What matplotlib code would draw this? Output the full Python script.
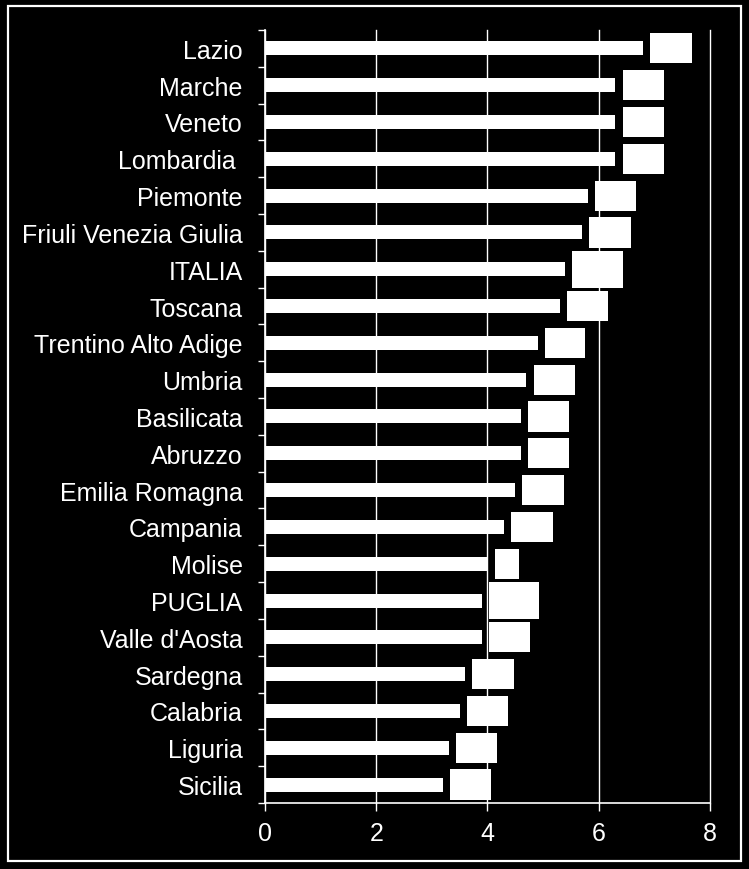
import matplotlib
matplotlib.use("Agg")
import matplotlib.pyplot as plt
from matplotlib.patches import Rectangle
import numpy as np

plt.rcParams['font.family'] = ['Liberation Sans', 'DejaVu Sans']

# regions, top to bottom
regions = ["Lazio", "Marche", "Veneto", "Lombardia ", "Piemonte",
           "Friuli Venezia Giulia", "ITALIA", "Toscana", "Trentino Alto Adige",
           "Umbria", "Basilicata", "Abruzzo", "Emilia Romagna", "Campania",
           "Molise", "PUGLIA", "Valle d'Aosta", "Sardegna", "Calabria",
           "Liguria", "Sicilia"]
values = [6.8, 6.3, 6.3, 6.3, 5.8, 5.7, 5.4, 5.3, 4.9, 4.7, 4.6, 4.6,
          4.5, 4.3, 4.0, 3.9, 3.9, 3.6, 3.5, 3.3, 3.2]
# white boxes to the right of each bar
box_start = [6.92, 6.44, 6.44, 6.44, 5.93, 5.82, 5.52, 5.43, 5.03, 4.84, 4.73,
             4.73, 4.62, 4.42, 4.13, 4.02, 4.02, 3.72, 3.63, 3.43, 3.33]
box_end = [7.68, 7.17, 7.17, 7.17, 6.67, 6.58, 6.43, 6.16, 5.76, 5.57, 5.47,
           5.47, 5.38, 5.18, 4.57, 4.93, 4.76, 4.48, 4.37, 4.17, 4.06]
highlight = ["ITALIA", "PUGLIA"]

fig = plt.figure(figsize=(7.49, 8.70), dpi=100, facecolor='black')
ax = fig.add_axes([0.3538, 0.0759, 0.5941, 0.8885], facecolor='black')

y = np.arange(len(regions))
ax.barh(y, values, height=0.38, color='white', zorder=3)
for i, r in enumerate(regions):
    h = 1.0 if r in highlight else 0.82
    ax.barh(i, box_end[i] - box_start[i], left=box_start[i], height=h,
            color='white', zorder=3)

ax.set_xlim(0, 8)
ax.set_ylim(len(regions) - 0.5, -0.5)
ax.set_xticks([0, 2, 4, 6, 8])
ax.set_yticks(y)
ax.set_yticklabels(regions)
ax.set_yticks(np.arange(-0.5, len(regions), 1.0), minor=True)

ax.grid(axis='x', color='white', linewidth=1.0, zorder=0)
ax.set_axisbelow(True)
for line in ax.get_xgridlines():
    line.set_clip_on(False)
for s in ['top', 'right']:
    ax.spines[s].set_visible(False)
for s in ['left', 'bottom']:
    ax.spines[s].set_color('white')
    ax.spines[s].set_linewidth(1.2)

ax.tick_params(axis='y', which='major', length=0, pad=16, labelsize=18,
               labelcolor='white')
ax.tick_params(axis='y', which='minor', length=5, width=1.0, color='white',
               direction='out')
ax.tick_params(axis='x', which='major', length=6, width=1.0, color='white',
               pad=7, labelsize=18, labelcolor='white')

fig.patches.append(Rectangle((8 / 749, 1 - 862 / 870), 733 / 749, 855 / 870,
                             transform=fig.transFigure, fill=False,
                             edgecolor='white', linewidth=1.6))

fig.savefig('out.png', dpi=100, facecolor='black')
